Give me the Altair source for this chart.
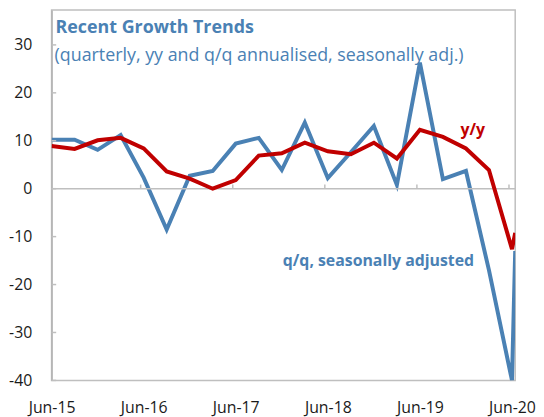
import altair as alt
import pandas as pd

FONT = "Open Sans"
BLUE = "#4a81b4"
RED = "#c00000"
GRAY = "#bfbfbf"

# quarterly observations (index 0 = Jun-15); last entry is a short extra step after Jun-20
quarters = ["Jun-15", "Sep-15", "Dec-15", "Mar-16", "Jun-16", "Sep-16", "Dec-16", "Mar-17",
            "Jun-17", "Sep-17", "Dec-17", "Mar-18", "Jun-18", "Sep-18", "Dec-18", "Mar-19",
            "Jun-19", "Sep-19", "Dec-19", "Mar-20", "Jun-20", "Jul-20"]
positions = list(range(21)) + [20.14]
qq_values = [10.2, 10.2, 8.1, 11.2, 2.3, -8.5, 2.7, 3.7, 9.4, 10.6, 3.9, 13.8, 2.2, 7.6,
             13.1, 0.8, 26.3, 2.0, 3.7, -17.0, -40.0, -13.0]
yy_values = [8.9, 8.3, 10.1, 10.6, 8.4, 3.6, 2.1, 0.0, 1.8, 6.9, 7.4, 9.6, 7.8, 7.2,
             9.6, 6.3, 12.3, 10.8, 8.4, 3.9, -12.6, -9.2]

year_labels = ["Jun-15", "Jun-16", "Jun-17", "Jun-18", "Jun-19", "Jun-20"]
year_pos = [0, 4, 8, 12, 16, 20]
y_ticks = [-40, -30, -20, -10, 0, 10, 20, 30]

title_text = "Recent Growth Trends"
subtitle_text = "(quarterly, yy and q/q annualised, seasonally adj.)"

X_MAX = 20.14
Y_MIN, Y_MAX = -40, 37.3

df_qq = pd.DataFrame({"pos": positions, "value": qq_values, "quarter": quarters})
df_yy = pd.DataFrame({"pos": positions, "value": yy_values, "quarter": quarters})

label_expr = " : ".join(
    [f"datum.value == {p} ? '{l}'" for p, l in zip(year_pos, year_labels)]) + " : ''"

x_enc = alt.X("pos:Q",
              scale=alt.Scale(domain=[0, X_MAX], nice=False, zero=False),
              axis=alt.Axis(values=year_pos, labelExpr=label_expr, ticks=False,
                            domain=False, grid=False, labelPadding=19, labelFontSize=16,
                            labelFont=FONT, labelColor="#1a1a1a", title=None,
                            labelFlush=False))
y_enc = alt.Y("value:Q",
              scale=alt.Scale(domain=[Y_MIN, Y_MAX], nice=False, zero=False),
              axis=alt.Axis(values=y_ticks, labelExpr="datum.value + ''", ticks=False,
                            grid=False, domainColor="#b3b3b3",
                            domainWidth=1.5, labelPadding=20, labelFontSize=16,
                            labelFont=FONT, labelColor="#1a1a1a", title=None))

zero = alt.Chart(pd.DataFrame({"value": [0]})).mark_rule(
    color=GRAY, strokeWidth=1.5).encode(y=alt.Y("value:Q"))

xt = pd.DataFrame({"pos": [p - 0.13 for p in year_pos[1:]], "v0": 0, "v1": 0.85})
xticks = alt.Chart(xt).mark_rule(color=GRAY, strokeWidth=1.5).encode(
    x="pos:Q", y="v0:Q", y2="v1:Q")

yt = pd.DataFrame({"value": y_ticks, "p0": 0, "p1": 0.2})
yticks = alt.Chart(yt).mark_rule(color=GRAY, strokeWidth=1.5).encode(
    x="p0:Q", x2="p1:Q", y="value:Q")

line_qq = alt.Chart(df_qq).mark_line(color=BLUE, strokeWidth=4, clip=True).encode(
    x=x_enc, y=y_enc)
line_yy = alt.Chart(df_yy).mark_line(color=RED, strokeWidth=4, clip=True).encode(
    x="pos:Q", y="value:Q")

ann = pd.DataFrame({"pos": [18.3, 14.2], "value": [12.3, -15.2],
                    "label": ["y/y", "q/q, seasonally adjusted"],
                    "series": ["y/y", "q/q"]})
ann_text = alt.Chart(ann).mark_text(fontSize=16, fontWeight="bold", font=FONT,
                                    align="center", baseline="middle").encode(
    x="pos:Q", y="value:Q", text="label:N",
    color=alt.Color("series:N", scale=alt.Scale(domain=["q/q", "y/y"], range=[BLUE, RED]),
                    legend=None))

title = alt.Chart(pd.DataFrame({"t": [title_text]})).mark_text(
    align="left", baseline="alphabetic", fontSize=18, fontWeight="bold", font=FONT,
    color=BLUE).encode(x=alt.value(4), y=alt.value(23), text="t:N")
subtitle = alt.Chart(pd.DataFrame({"t": [subtitle_text]})).mark_text(
    align="left", baseline="alphabetic", fontSize=18, font=FONT,
    color=BLUE).encode(x=alt.value(3), y=alt.value(52), text="t:N")

chart = alt.layer(line_qq, zero, xticks, yticks, line_yy, ann_text, title, subtitle).properties(
    width=468, height=374,
    padding={"left": 0, "top": 0, "right": 0, "bottom": 0}
).configure_view(stroke=GRAY, strokeWidth=1.5)

chart.save("out.html", embed_options={"renderer": "svg", "actions": False})
